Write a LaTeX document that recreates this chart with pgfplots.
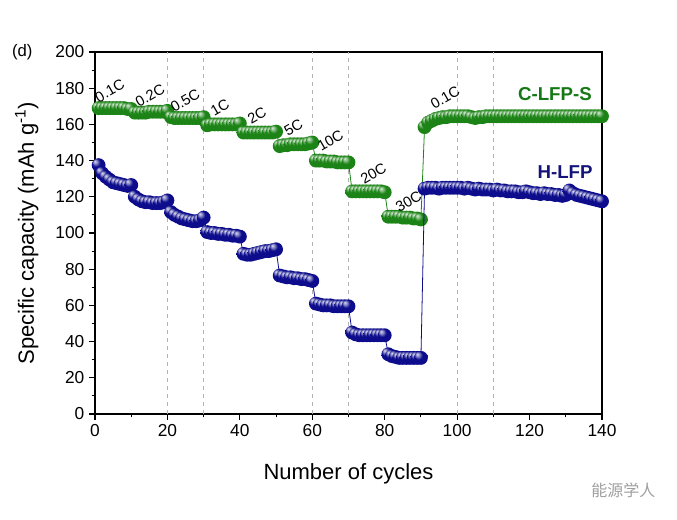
\documentclass[border=0pt]{standalone}
\usepackage{fontspec}
\setmainfont{Liberation Sans}
\newfontfamily\cjk{Noto Sans CJK SC}
\usepackage{pgfplots}
\pgfplotsset{compat=1.18}
\usetikzlibrary{calc}
\definecolor{cg}{RGB}{28,132,22}
\definecolor{cb}{RGB}{12,12,140}
\definecolor{cgt}{RGB}{20,120,20}
\definecolor{cbt}{RGB}{20,20,120}
\pgfdeclareradialshading{gshade}{\pgfqpoint{-14bp}{14bp}}{color(0bp)=(cg!15!white); color(7bp)=(cg!55!white); color(15bp)=(cg); color(40bp)=(cg); color(50bp)=(cg!70!black)}
\pgfdeclareradialshading{bshade}{\pgfqpoint{-14bp}{14bp}}{color(0bp)=(cb!15!white); color(7bp)=(cb!50!white); color(15bp)=(cb); color(40bp)=(cb); color(50bp)=(cb!70!black)}
\pgfdeclareplotmark{gball}{\pgfpathcircle{\pgfpointorigin}{\pgfplotmarksize}\pgfshadepath{gshade}{0}\pgfusepath{}}
\pgfdeclareplotmark{bball}{\pgfpathcircle{\pgfpointorigin}{\pgfplotmarksize}\pgfshadepath{bshade}{0}\pgfusepath{}}
\begin{document}
\begin{tikzpicture}
\begin{axis}[name=ax, at={(0,0)}, anchor=south west,
  scale only axis, width=380.25pt, height=271.5pt,
  xmin=0, xmax=140, ymin=0, ymax=200,
  xtick={0,20,...,140}, minor xtick={10,30,...,130},
  ytick={0,20,...,200}, minor ytick={10,30,...,190},
  xtick pos=bottom, ytick pos=left, tick align=outside,
  major tick length=4.5pt, minor tick length=2.6pt,
  every tick/.style={black, line width=0.8pt},
  axis line style={line width=1pt},
  ticklabel style={font=\fontsize{13}{15}\selectfont},
  /pgf/number format/assume math mode=true,
  clip mode=individual,
]
\foreach \g in {20,30,60,70,100,110}{
  \edef\tmp{\noexpand\draw[gray!60, dashed, line width=0.4pt] (axis cs:\g,0) -- (axis cs:\g,200);}\tmp
}
\addplot[cg, line width=0.6pt, mark=gball, mark size=5.2pt] coordinates {
(1,169)(2,169)(3,169)(4,169)(5,169)(6,169)(7,169)(8,169)(9,168.5)(10,168.5)
(11,166.5)(12,166.5)(13,166.5)(14,166.5)(15,167)(16,167)(17,167)(18,167)(19,167)(20,167.5)
(21,164)(22,163.5)(23,163.5)(24,163.5)(25,163.5)(26,163.5)(27,163.5)(28,163.5)(29,163.5)(30,164)
(31,159.5)(32,160)(33,160)(34,160)(35,160)(36,160)(37,160)(38,160)(39,160)(40,160.5)
(41,155.5)(42,155.5)(43,155.5)(44,155.5)(45,155.5)(46,155.5)(47,155.5)(48,155.5)(49,155.5)(50,156)
(51,148)(52,148.5)(53,148.5)(54,149)(55,149)(56,149)(57,149)(58,149)(59,149.5)(60,150)
(61,140)(62,140)(63,140)(64,139.5)(65,139.5)(66,139.5)(67,139)(68,139)(69,139)(70,139)
(71,123)(72,123)(73,123)(74,123)(75,123)(76,123)(77,123)(78,123)(79,123)(80,122.5)
(81,109)(82,109)(83,109)(84,109)(85,108.5)(86,108.5)(87,108.5)(88,108)(89,108)(90,107.5)
(91,158.5)(92,161)(93,162)(94,163)(95,163.5)(96,164)(97,164)(98,164.5)(99,164.5)(100,164.5)
(101,164.5)(102,164.5)(103,164.5)(104,164)(105,163.5)(106,164)(107,164)(108,164.5)(109,164.5)(110,164.5)
(111,164.5)(112,164.5)(113,164.5)(114,164.5)(115,164.5)(116,164.5)(117,164.5)(118,164.5)(119,164.5)(120,164.5)
(121,164.5)(122,164.5)(123,164.5)(124,164.5)(125,164.5)(126,164.5)(127,164.5)(128,164.5)(129,164.5)(130,164.5)
(131,164.5)(132,164.5)(133,164.5)(134,164.5)(135,164.5)(136,164.5)(137,164.5)(138,164.5)(139,164.5)(140,164.5)
};
\addplot[cb, line width=0.6pt, mark=bball, mark size=5.2pt] coordinates {
(1,137.5)(2,133)(3,131)(4,129.5)(5,128)(6,127.5)(7,127)(8,126.5)(9,126)(10,126.5)
(11,120)(12,118.5)(13,117.5)(14,117)(15,117)(16,116.5)(17,116.5)(18,116.5)(19,117)(20,118)
(21,111.5)(22,110)(23,109)(24,108)(25,107.5)(26,107)(27,106.5)(28,106.5)(29,107)(30,108.5)
(31,100.5)(32,100)(33,100)(34,99.5)(35,99.5)(36,99)(37,99)(38,98.5)(39,98.5)(40,98)
(41,88.5)(42,88)(43,88)(44,88.5)(45,89)(46,89.5)(47,90)(48,90)(49,90.5)(50,91)
(51,76.5)(52,76)(53,75.5)(54,75.5)(55,75)(56,75)(57,74.5)(58,74.5)(59,74)(60,73.5)
(61,61)(62,60.5)(63,60)(64,60)(65,60)(66,59.5)(67,59.5)(68,59.5)(69,59.5)(70,59.5)
(71,45)(72,44)(73,43.5)(74,43.5)(75,43.5)(76,43.5)(77,43.5)(78,43.5)(79,43.5)(80,43.5)
(81,33)(82,32)(83,31.5)(84,31)(85,31)(86,31)(87,31)(88,31)(89,31)(90,31)
(91,124.5)(92,125)(93,125)(94,125)(95,124.5)(96,125)(97,125)(98,125)(99,125)(100,125)
(101,125)(102,124.5)(103,125)(104,124.5)(105,124)(106,124.5)(107,124)(108,124)(109,124)(110,123.5)
(111,124)(112,123.5)(113,123.5)(114,123)(115,123)(116,123)(117,122.5)(118,122.5)(119,123)(120,122.5)
(121,122)(122,122)(123,121.5)(124,122)(125,121.5)(126,121.5)(127,121)(128,121)(129,120.5)(130,121)
(131,123.5)(132,122)(133,121)(134,120.5)(135,120)(136,119.5)(137,119)(138,118.5)(139,118)(140,117.5)
};
\begin{scope}[font=\fontsize{11}{12}\selectfont, every node/.style={inner sep=0pt}]
\node[rotate=30] at (axis cs:4.1,178.5) {0.1C};
\node[rotate=30] at (axis cs:15.2,176) {0.2C};
\node[rotate=30] at (axis cs:24.9,173) {0.5C};
\node[rotate=30] at (axis cs:34.5,169.5) {1C};
\node[rotate=30] at (axis cs:44.7,165) {2C};
\node[rotate=30] at (axis cs:54.8,158.5) {5C};
\node[rotate=30] at (axis cs:65,151) {10C};
\node[rotate=30] at (axis cs:76.9,133) {20C};
\node[rotate=30] at (axis cs:86.6,117.5) {30C};
\node[rotate=30] at (axis cs:96.7,175) {0.1C};
\end{scope}
\node[text=cgt, font=\fontsize{14}{16}\selectfont\bfseries] at (axis cs:127,176.6) {C-LFP-S};
\node[text=cbt, font=\fontsize{14}{16}\selectfont\bfseries] at (axis cs:129.8,133.9) {H-LFP};
\end{axis}
\node[font=\fontsize{16.5}{19}\selectfont] at ($(ax.south)+(0,-45pt)$) {Number of cycles};
\node[rotate=90, font=\fontsize{16.5}{19}\selectfont] at ($(ax.west)+(-51.2pt,0)$) {Specific capacity (mAh g\textsuperscript{-1})};
\node[font=\fontsize{12.5}{14}\selectfont] at ($(ax.north west)+(-54.5pt,0)$) {(d)};
\node[text=gray!75, font=\cjk\fontsize{12}{14}\selectfont] at ($(ax.south east)+(16pt,-57.5pt)$) {能源学人};
\path[use as bounding box] ($(ax.south west)+(-71.25pt,-79.5pt)$) rectangle ($(ax.north east)+(56.25pt,39pt)$);
\end{tikzpicture}
\end{document}
